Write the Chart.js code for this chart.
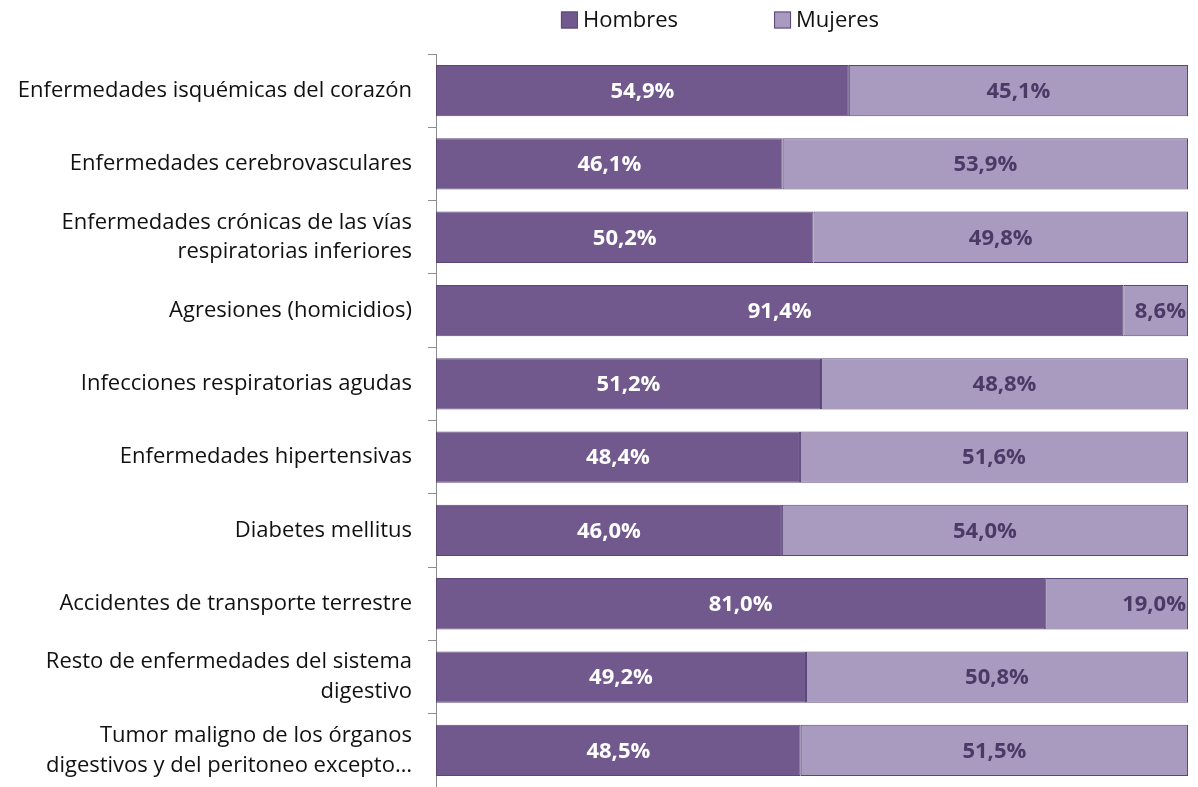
<!DOCTYPE html>
<html>
<head>
<meta charset="utf-8">
<script src="https://cdn.jsdelivr.net/npm/chart.js@4/dist/chart.umd.min.js"></script>
<style>
  body { margin: 0; background: #fff; }
  #wrap { width: 1198px; height: 787px; }
</style>
</head>
<body>
<div id="wrap"><canvas id="myChart" width="1198" height="787"></canvas></div>
<script>
const causas = [
  'Enfermedades isquémicas del corazón',
  'Enfermedades cerebrovasculares',
  ['Enfermedades crónicas de las vías', 'respiratorias inferiores'],
  'Agresiones (homicidios)',
  'Infecciones respiratorias agudas',
  'Enfermedades hipertensivas',
  'Diabetes mellitus',
  'Accidentes de transporte terrestre',
  ['Resto de enfermedades del sistema', 'digestivo'],
  ['Tumor maligno de los órganos', 'digestivos y del peritoneo excepto…']
];
const hombres = [54.9, 46.1, 50.2, 91.4, 51.2, 48.4, 46.0, 81.0, 49.2, 48.5];
const mujeres = [45.1, 53.9, 49.8, 8.6, 48.8, 51.6, 54.0, 19.0, 50.8, 51.5];

const fontFam = '"Open Sans", "Noto Sans", sans-serif';
const borde = '#5b4777';

// draws the percentage labels inside each bar segment
const pctLabels = {
  id: 'pctLabels',
  afterDatasetsDraw(chart) {
    const ctx = chart.ctx;
    ctx.save();
    ctx.font = 'bold 22px ' + fontFam;
    ctx.textBaseline = 'middle';
    chart.data.datasets.forEach((ds, i) => {
      const meta = chart.getDatasetMeta(i);
      meta.data.forEach((bar, j) => {
        const v = ds.data[j];
        const txt = v.toFixed(1).replace('.', ',') + '%';
        const left = Math.min(bar.base, bar.x), right = Math.max(bar.base, bar.x);
        ctx.fillStyle = i === 0 ? '#ffffff' : '#4b3a66';
        if (i === 1 && v < 25) {
          ctx.textAlign = 'right';
          ctx.fillText(txt, right - 2, bar.y + 1);
        } else {
          ctx.textAlign = 'center';
          ctx.fillText(txt, (left + right) / 2, bar.y + 1);
        }
      });
    });
    ctx.restore();
  }
};

// simple legend on top (Chart.js legend padding also adds height, so drawn by hand)
const topLegend = {
  id: 'topLegend',
  afterDraw(chart) {
    const ctx = chart.ctx;
    ctx.save();
    ctx.font = '22px ' + fontFam;
    ctx.textBaseline = 'middle';
    ctx.textAlign = 'left';
    const box = 17, gapTxt = 5, gapItem = 96;
    const items = chart.data.datasets.map(ds => ({
      label: ds.label, color: ds.backgroundColor,
      w: box + gapTxt + ctx.measureText(ds.label).width
    }));
    const total = items.reduce((s, it) => s + it.w, 0) + gapItem * (items.length - 1);
    let x = 720 - total / 2;
    const y = 20;
    items.forEach(it => {
      ctx.fillStyle = it.color;
      ctx.fillRect(x, y - box / 2, box, box);
      ctx.strokeStyle = borde;
      ctx.lineWidth = 1;
      ctx.strokeRect(x + 0.5, y - box / 2 + 0.5, box - 1, box - 1);
      ctx.fillStyle = '#111';
      ctx.fillText(it.label, x + box + gapTxt, y + 1);
      x += it.w + gapItem;
    });
    ctx.restore();
  }
};

new Chart('myChart', {
  type: 'bar',
  data: {
    labels: causas,
    datasets: [
      {
        label: 'Hombres',
        data: hombres,
        backgroundColor: '#71598e',
        borderColor: borde,
        borderWidth: 1,
        borderSkipped: false,
        barPercentage: 0.7,
        categoryPercentage: 1
      },
      {
        label: 'Mujeres',
        data: mujeres,
        backgroundColor: '#a99abf',
        borderColor: borde,
        borderWidth: 1,
        borderSkipped: false,
        barPercentage: 0.7,
        categoryPercentage: 1
      }
    ]
  },
  options: {
    indexAxis: 'y',
    responsive: false,
    animation: false,
    layout: { padding: { left: 0, right: 10, top: 54, bottom: 0 } },
    plugins: {
      tooltip: { enabled: false },
      legend: { display: false }
    },
    scales: {
      x: {
        stacked: true,
        min: 0,
        max: 100,
        display: false
      },
      y: {
        stacked: true,
        afterFit(scale) {
          scale.width = 436;
          scale.paddingTop = 0;
          scale.paddingBottom = 0;
        },
        grid: {
          offset: true,
          drawOnChartArea: false,
          drawTicks: true,
          tickLength: 8,
          color: '#8c8c8c'
        },
        border: { display: true, color: '#8c8c8c', width: 1 },
        ticks: {
          color: '#111',
          padding: 16,
          font: { family: fontFam, size: 22, lineHeight: 1.36 }
        }
      }
    }
  },
  plugins: [pctLabels, topLegend]
});
</script>
</body>
</html>
